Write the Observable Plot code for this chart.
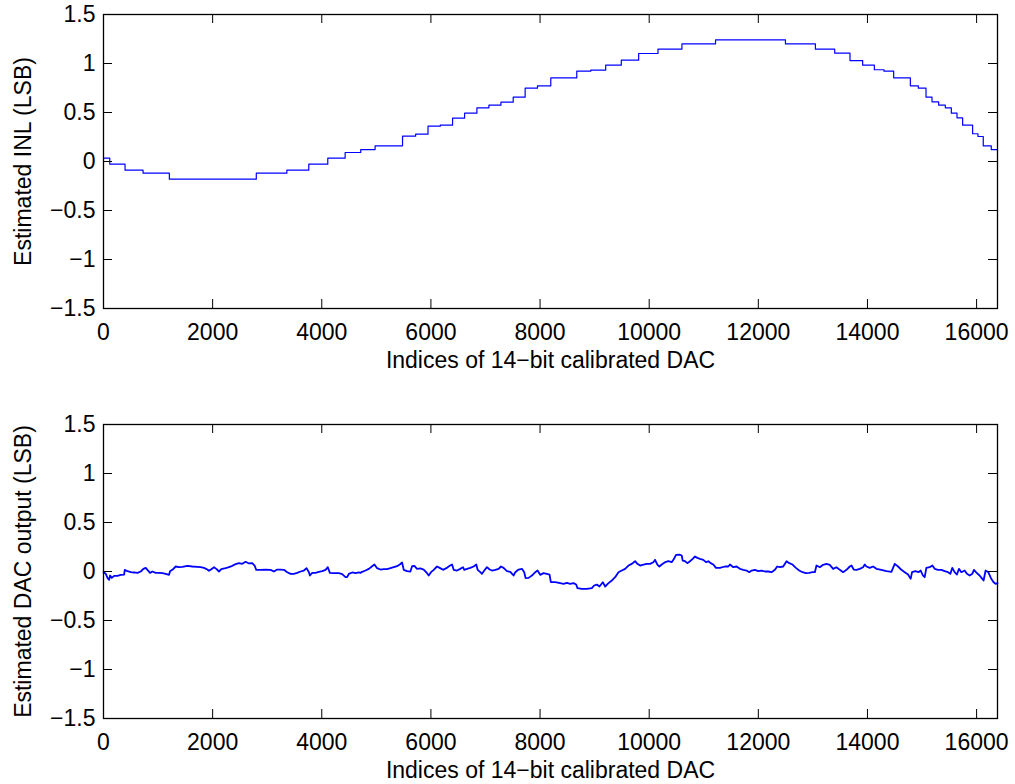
<!DOCTYPE html>
<html>
<head>
<meta charset="utf-8">
<script src="https://cdn.jsdelivr.net/npm/d3@7"></script>
<script src="https://cdn.jsdelivr.net/npm/@observablehq/plot@0.6"></script>
<style>
html, body { margin: 0; padding: 0; background: #fff; }
#chart svg { display: block; }
</style>
</head>
<body>
<div id="chart"></div>
<script>
// ---- tick labels ----
const xTicks = [0, 2000, 4000, 6000, 8000, 10000, 12000, 14000, 16000];
const yTicks = [-1.5, -1, -0.5, 0, 0.5, 1, 1.5];
const xDomain = [0, 16383];
const yDomain = [-1.5, 1.5];

// ---- texts ----
const xLabel = "Indices of 14\u2212bit calibrated DAC";
const yLabelTop = "Estimated INL (LSB)";
const yLabelBottom = "Estimated DAC output (LSB)";

// ---- top panel: estimated INL (step function; each value holds until next index) ----
const inlIndex = [0, 115, 395, 725, 1207, 2800, 3360, 3762, 4110, 4428,
  4714, 4977, 5480, 5720, 5947, 6172, 6397, 6617, 6843, 7063,
  7283, 7508, 7727, 7953, 8197, 8673, 8929, 9203, 9489, 9807,
  10161, 10600, 11216, 12497, 13046, 13400, 13680, 13912, 14126, 14303,
  14480, 14786, 14932, 15073, 15183, 15305, 15427, 15537, 15641, 15744,
  15927, 16025, 16122, 16269, 16383];
const inlValue = [0.034, -0.027, -0.089, -0.119, -0.18, -0.119, -0.089, -0.027, 0.034, 0.092,
  0.122, 0.16, 0.258, 0.279, 0.36, 0.371, 0.442, 0.493, 0.548, 0.575,
  0.605, 0.656, 0.748, 0.772, 0.854, 0.922, 0.932, 0.983, 1.034, 1.102,
  1.146, 1.2, 1.241, 1.2, 1.146, 1.105, 1.03, 0.983, 0.936, 0.922,
  0.854, 0.772, 0.748, 0.656, 0.609, 0.575, 0.548, 0.493, 0.446, 0.371,
  0.283, 0.255, 0.16, 0.122, 0.122];

// ---- bottom panel: estimated DAC output [index, value] ----
const dacSamples = [
  [0,-0.007],[42,-0.024],[73,-0.065],[103,-0.085],[121,-0.041],[152,-0.065],[195,-0.044],[256,-0.044],[317,-0.034],[378,-0.031],
  [390,0.017],[439,0.003],[500,-0.007],[561,-0.010],[622,-0.014],[683,0],[731,0.027],[774,0.037],[805,0.017],[853,-0.014],
  [896,0],[957,-0.014],[1018,-0.014],[1079,-0.017],[1140,-0.024],[1201,-0.034],[1219,0.003],[1262,0.017],[1323,0.051],[1384,0.044],
  [1445,0.048],[1537,0.058],[1628,0.051],[1720,0.048],[1781,0.044],[1842,0.037],[1903,0.020],[1933,0.007],[1976,0.024],[2025,0.044],
  [2073,0.024],[2116,0],[2159,0.024],[2238,0.034],[2299,0.044],[2360,0.058],[2421,0.075],[2482,0.085],[2543,0.078],[2604,0.099],
  [2665,0.082],[2726,0.085],[2769,0.061],[2799,0.017],[2879,0.017],[2970,0.020],[3062,0.017],[3123,0],[3184,0.020],[3245,0.020],
  [3306,0.017],[3367,-0.007],[3428,-0.024],[3489,-0.024],[3550,-0.014],[3611,0],[3672,0.010],[3721,0.034],[3764,-0.007],[3782,-0.041],
  [3825,-0.014],[3886,-0.014],[3947,-0.003],[4008,0.003],[4069,0.017],[4111,0.044],[4148,-0.014],[4221,-0.017],[4313,-0.017],[4374,-0.027],
  [4435,-0.058],[4465,-0.058],[4496,-0.024],[4557,-0.010],[4618,-0.017],[4679,-0.010],[4709,-0.014],[4740,-0.003],[4801,0.010],[4862,0.027],
  [4923,0.054],[4965,0.071],[5014,0.034],[5075,0.020],[5136,0.024],[5197,0.024],[5258,0.034],[5319,0.044],[5380,0.054],[5429,0.071],
  [5472,0.092],[5502,0.017],[5563,0.003],[5624,0],[5655,0.054],[5697,0.058],[5746,0.027],[5807,0.031],[5868,0.020],[5929,-0.017],
  [5960,-0.041],[6002,-0.007],[6051,0.017],[6112,0.051],[6161,0.037],[6222,0.017],[6283,0.034],[6344,0.058],[6387,0.071],[6417,0.017],
  [6478,0.010],[6539,0.027],[6588,0.044],[6612,0.017],[6661,0.027],[6722,0.037],[6783,0.051],[6832,0.071],[6856,0.017],[6905,-0.007],
  [6936,-0.024],[6978,0.010],[7027,0.044],[7076,0.020],[7119,0.010],[7180,0.017],[7241,0.027],[7283,0.051],[7332,0.037],[7393,0.003],
  [7454,-0.003],[7515,-0.041],[7546,-0.007],[7607,0.020],[7668,0.027],[7710,-0.007],[7735,-0.068],[7790,-0.065],[7851,-0.041],[7912,-0.007],
  [7954,0.010],[8003,-0.034],[8064,-0.017],[8125,-0.024],[8174,-0.031],[8198,-0.109],[8278,-0.109],[8369,-0.119],[8430,-0.126],[8491,-0.116],
  [8552,-0.126],[8613,-0.119],[8662,-0.133],[8686,-0.170],[8766,-0.177],[8857,-0.177],[8949,-0.170],[8991,-0.143],[9040,-0.133],[9089,-0.153],
  [9150,-0.109],[9193,-0.153],[9254,-0.119],[9315,-0.092],[9376,-0.058],[9437,-0.007],[9498,0.010],[9559,0.027],[9620,0.061],[9681,0.078],
  [9742,0.105],[9784,0.078],[9833,0.061],[9894,0.071],[9955,0.078],[10016,0.078],[10077,0.095],[10108,0.119],[10150,0.071],[10187,0.051],
  [10230,0.071],[10291,0.095],[10352,0.105],[10413,0.095],[10455,0.129],[10492,0.170],[10553,0.173],[10596,0.163],[10614,0.112],[10657,0.105],
  [10699,0.085],[10748,0.105],[10797,0.129],[10840,0.153],[10882,0.139],[10931,0.129],[10992,0.119],[11041,0.095],[11084,0.105],[11126,0.085],
  [11175,0.071],[11224,0.037],[11297,0.037],[11389,0.051],[11450,0.051],[11480,0.071],[11541,0.044],[11602,0.051],[11663,0.027],[11724,0.017],
  [11785,0.010],[11834,-0.007],[11877,0.010],[11938,0.017],[11999,0.003],[12060,0.010],[12121,0],[12182,0],[12243,-0.007],[12304,0.017],
  [12346,0.051],[12395,0.044],[12456,0.051],[12517,0.105],[12566,0.085],[12627,0.071],[12688,0.037],[12749,0.010],[12810,-0.007],[12871,-0.017],
  [12932,-0.014],[12993,-0.007],[13036,-0.007],[13066,0.061],[13127,0.044],[13188,0.068],[13249,0.078],[13310,0.068],[13371,0.027],[13432,0.044],
  [13493,0.017],[13554,-0.007],[13615,0.017],[13676,0.051],[13707,0.061],[13749,0.020],[13798,0.017],[13859,0.027],[13920,0.044],[13951,0.071],
  [13981,0.051],[14042,0.037],[14103,0.051],[14164,0.027],[14256,0.017],[14347,0.003],[14439,-0.003],[14500,0.078],[14561,0.051],[14622,0.017],
  [14683,-0.007],[14744,-0.031],[14792,-0.075],[14817,-0.007],[14878,0.003],[14939,-0.007],[14975,0.010],[15018,-0.041],[15049,-0.058],[15079,0.037],
  [15140,0.044],[15189,0.061],[15232,0.027],[15293,0.017],[15354,0.017],[15415,0.003],[15476,-0.007],[15518,-0.024],[15555,0.037],[15597,-0.007],
  [15640,-0.031],[15677,0.027],[15720,-0.007],[15781,0.010],[15823,-0.024],[15872,-0.041],[15921,-0.024],[15951,0.017],[16006,-0.017],[16055,-0.041],
  [16104,-0.075],[16128,-0.092],[16165,0.010],[16214,-0.007],[16269,-0.075],[16311,-0.109],[16348,-0.126],[16383,-0.119]
];

// ---- build tables ----
const inlData = inlIndex.map((x, i) => ({x, y: inlValue[i]}));
const dacData = dacSamples.map(([x, y]) => ({x, y}));

const fmtNum = d => (d < 0 ? "\u2212" + Math.abs(d) : String(d));
const FONT = "'Liberation Sans', Arial, Helvetica, sans-serif";

function panel(data, yLabel, {height, marginTop, marginBottom, strokeWidth, curve}) {
  const W = 1015, ML = 103, MR = 18, T = 9;
  const innerW = W - ML - MR, innerH = height - marginTop - marginBottom;
  return Plot.plot({
    width: W, height, marginLeft: ML, marginRight: MR, marginTop, marginBottom,
    style: {fontFamily: FONT, fontSize: "23px", color: "#000", background: "#fff", overflow: "visible"},
    x: {domain: xDomain},
    y: {domain: yDomain},
    marks: [
      Plot.line(data, {x: "x", y: "y", stroke: "#0000ff", strokeWidth, curve}),
      Plot.tickX(xTicks, {x: d => d, insetTop: innerH - T, stroke: "#000", strokeWidth: 1}),
      Plot.tickX(xTicks, {x: d => d, insetBottom: innerH - T, stroke: "#000", strokeWidth: 1}),
      Plot.tickY(yTicks, {y: d => d, insetRight: innerW - T, stroke: "#000", strokeWidth: 1}),
      Plot.tickY(yTicks, {y: d => d, insetLeft: innerW - T, stroke: "#000", strokeWidth: 1}),
      Plot.frame({stroke: "#000", strokeWidth: 1.3}),
      Plot.axisX({ticks: xTicks, tickSize: 0, tickPadding: 15, tickFormat: fmtNum,
        label: xLabel, labelAnchor: "center", labelOffset: 59, labelArrow: "none", fontSize: 23}),
      Plot.axisY({ticks: yTicks, tickSize: 0, tickPadding: 8, tickFormat: fmtNum,
        label: yLabel, labelAnchor: "center", labelOffset: 89, labelArrow: "none", fontSize: 23})
    ]
  });
}

const chart = document.getElementById("chart");
chart.appendChild(panel(inlData, yLabelTop, {height: 380, marginTop: 14, marginBottom: 72, strokeWidth: 1.2, curve: "step-after"}));
chart.appendChild(panel(dacData, yLabelBottom, {height: 404, marginTop: 44, marginBottom: 66, strokeWidth: 1.8, curve: "linear"}));
</script>
</body>
</html>
